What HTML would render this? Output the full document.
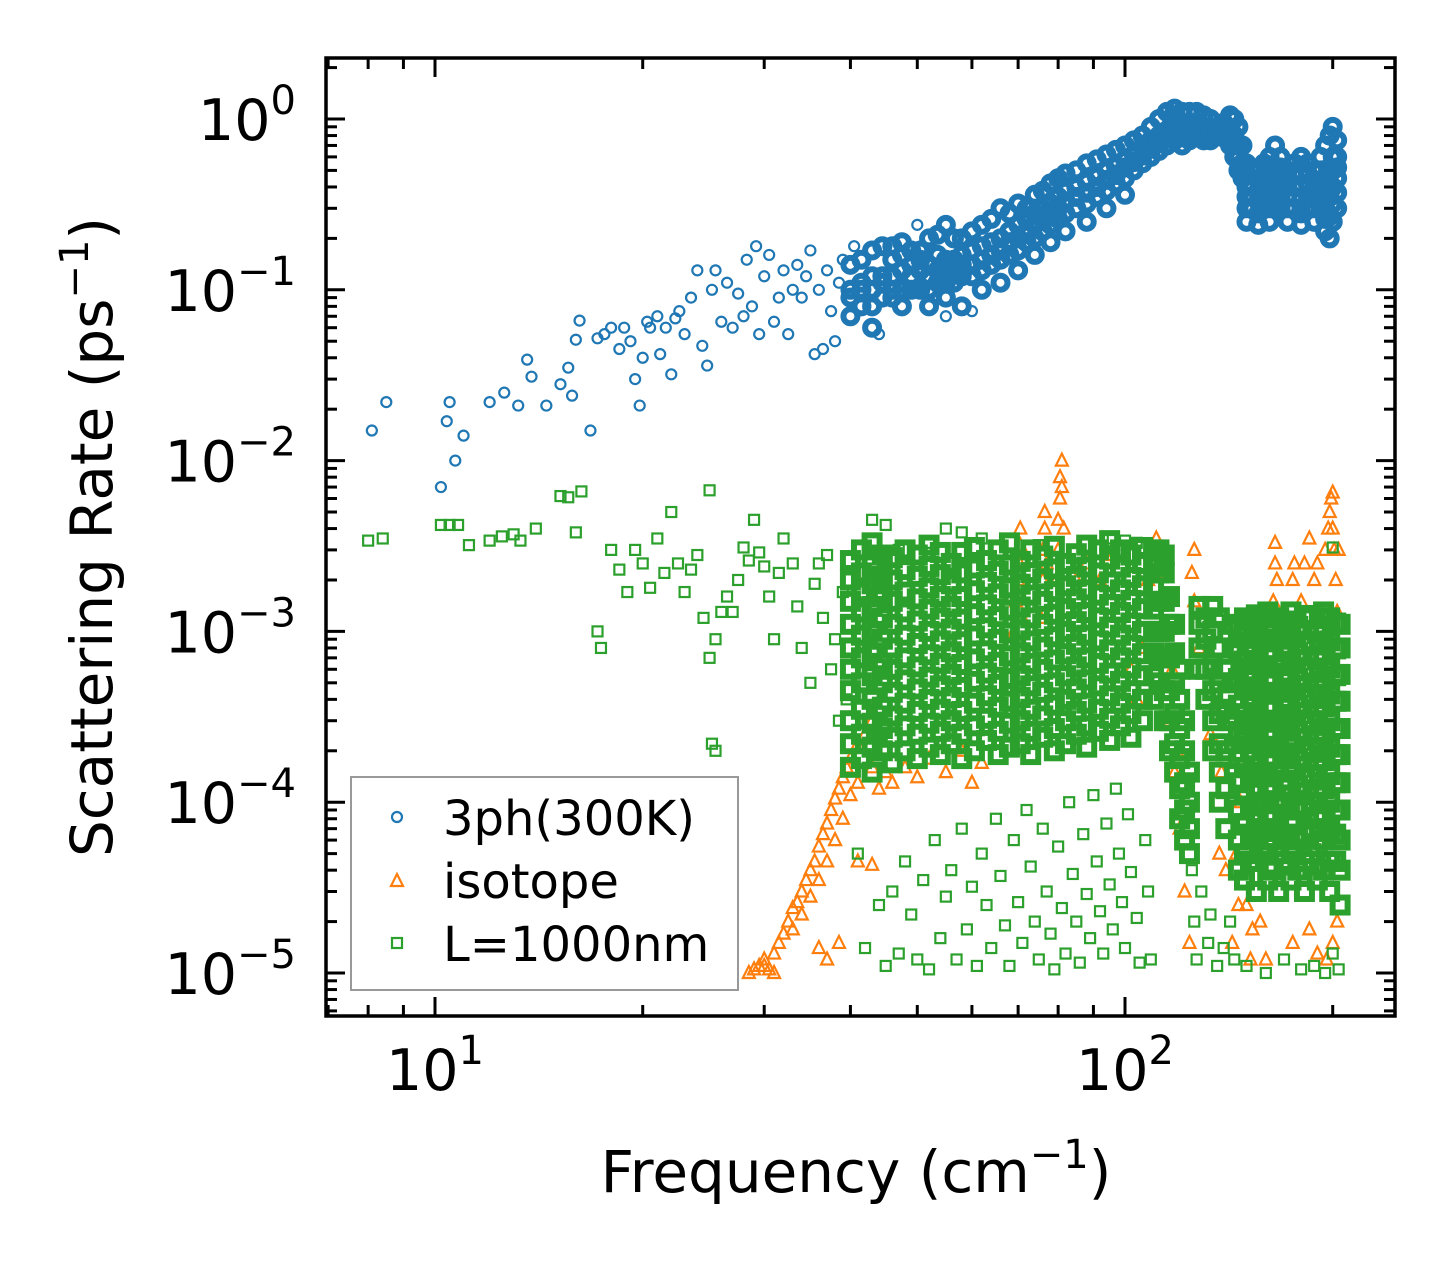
<!DOCTYPE html>
<html><head><meta charset="utf-8"><style>
html,body{margin:0;padding:0;background:#fff;}
svg{display:block;font-family:"DejaVu Sans","Liberation Sans",sans-serif;}
</style></head>
<body>
<svg id="chart" width="1455" height="1265" viewBox="0 0 1455 1265" xmlns="http://www.w3.org/2000/svg">
<defs><clipPath id="plotclip"><rect x="326" y="58" width="1069" height="958"/></clipPath></defs>
<rect width="1455" height="1265" fill="#fff"/>
<g id="series" clip-path="url(#plotclip)"></g>
<g id="axes"></g>
<text x="856" y="1192" font-size="58" text-anchor="middle">Frequency (cm<tspan font-size="40" dy="-24">−1</tspan><tspan dy="24">)</tspan></text>
<text transform="translate(112,537) rotate(-90)" font-size="58" text-anchor="middle">Scattering Rate (ps<tspan font-size="40" dy="-24">−1</tspan><tspan dy="24">)</tspan></text>
<g>
<rect x="351" y="777" width="387" height="213" fill="#fff" stroke="#999" stroke-width="2"/>
<g><circle cx="397" cy="817" r="5" fill="none" stroke="#1f77b4" stroke-width="2.2"/><text x="443" y="835" font-size="48">3ph(300K)</text></g>
<g><path d="M397,874 L403,886 L391,886 Z" fill="none" stroke="#ff7f0e" stroke-width="2.2"/><text x="443" y="898" font-size="48">isotope</text></g>
<g><rect x="392" y="938" width="10" height="10" fill="none" stroke="#2ca02c" stroke-width="2.2"/><text x="443" y="961" font-size="48">L=1000nm</text></g>
</g>
</svg>
<script>
// ---- data ----
const xTickValues=[10,100];
const xTickLabels=["1","2"];
const yTickValues=[1,0.1,0.01,0.001,0.0001,0.00001];
const yTickLabels=["0","−1","−2","−3","−4","−5"];

const blueSparse=[[8.1,0.015],[8.5,0.022],[10.2,0.007],[10.4,0.017],[10.5,0.022],[10.7,0.01],[11,0.014],[12,0.022],[12.6,0.025],[13.2,0.021],[13.6,0.039],[13.8,0.031],[14.5,0.021],[15.2,0.028],[15.6,0.035],[15.8,0.024],[16,0.051],[16.2,0.066],[16.8,0.015],[17.2,0.052],[17.6,0.055],[18,0.06],[18.5,0.045],[18.8,0.06],[19.2,0.05],[19.5,0.03],[19.8,0.021],[20,0.04],[20.3,0.065],[20.5,0.06],[21,0.07],[21.2,0.042],[21.6,0.06],[22,0.032],[22.3,0.068],[22.6,0.075],[23,0.055],[23.5,0.09],[24,0.13],[24.4,0.047],[24.8,0.036],[25.2,0.1],[25.5,0.13],[26,0.065],[26.5,0.11],[27,0.06],[27.5,0.095],[28,0.07],[28.3,0.15],[28.8,0.08],[29.2,0.18],[29.5,0.055],[30,0.12],[30.5,0.16],[31,0.065],[31.5,0.09],[32,0.13],[32.5,0.055],[33,0.1],[33.5,0.14],[34,0.09],[34.5,0.12],[35,0.17],[35.5,0.042],[36,0.1],[36.5,0.045],[37,0.13],[37.5,0.075],[38,0.05],[38.5,0.11],[39,0.15],[40.5,0.18],[44,0.055],[50,0.24],[55,0.07],[60,0.075]];
const blueColFreq=[40,41.5,43,44.5,46,47.5,49,50.5,52,53.5,55,56.5,58,60,62,64,66,68,70,72,74,76,78,80,82,85,88,91,94,97,100,103,106,109,112,115,118,121,124,127,130,133,136,139,142,144,146,148,150,153,156,159,162,165,168,172,176,180,184,188,192,195,198,200,203];
const blueColRates=[[0.07,0.09,0.1,0.14],[0.08,0.1,0.11,0.15],[0.08,0.1,0.12,0.17,0.06],[0.09,0.11,0.12,0.18],[0.09,0.1,0.12,0.15,0.18],[0.1,0.13,0.16,0.19,0.08],[0.1,0.12,0.14,0.17],[0.1,0.13,0.15,0.17],[0.1,0.12,0.14,0.2,0.08],[0.11,0.13,0.16,0.21],[0.11,0.13,0.15,0.24,0.09],[0.11,0.13,0.15,0.2],[0.12,0.14,0.16,0.2,0.08],[0.12,0.14,0.17,0.22],[0.13,0.15,0.18,0.24,0.1],[0.14,0.16,0.19,0.26],[0.15,0.17,0.2,0.3,0.11],[0.16,0.19,0.22,0.28],[0.17,0.2,0.24,0.32,0.13],[0.19,0.22,0.26,0.3],[0.2,0.24,0.28,0.36,0.16],[0.22,0.26,0.3,0.38],[0.24,0.28,0.32,0.42,0.19],[0.26,0.3,0.35,0.45],[0.28,0.33,0.38,0.48,0.22],[0.3,0.35,0.4,0.5],[0.32,0.37,0.43,0.55,0.25],[0.35,0.4,0.46,0.58],[0.38,0.44,0.5,0.62,0.3],[0.42,0.47,0.53,0.66],[0.45,0.52,0.58,0.7,0.36],[0.5,0.56,0.62,0.75],[0.55,0.61,0.68,0.8],[0.6,0.67,0.75,0.9],[0.65,0.72,0.8,1.0],[0.7,0.78,0.85,1.1],[0.75,0.82,0.9,1.15],[0.8,0.88,0.95,1.1,0.7],[0.75,0.82,0.9,1.1],[0.8,0.88,0.95,1.1],[0.75,0.82,0.9,1.05],[0.75,0.8,0.85,1.0],[0.8,0.85,0.9],[0.78,0.85,0.95],[0.7,0.85,1.05],[0.6,0.7,0.8,1.0],[0.5,0.6,0.7,0.9],[0.45,0.5,0.55,0.7],[0.3,0.35,0.4,0.48,0.55,0.25],[0.3,0.35,0.4,0.5],[0.28,0.33,0.38,0.44,0.5,0.24],[0.3,0.35,0.4,0.47,0.55],[0.3,0.36,0.42,0.5,0.6,0.25],[0.3,0.35,0.4,0.5,0.7],[0.32,0.38,0.45,0.52,0.6],[0.3,0.35,0.4,0.45,0.5,0.25],[0.3,0.35,0.4,0.47,0.55],[0.28,0.34,0.4,0.48,0.6,0.24],[0.3,0.36,0.42,0.48,0.55],[0.3,0.34,0.38,0.44,0.5,0.25],[0.3,0.35,0.4,0.5,0.6],[0.22,0.26,0.3,0.37,0.45,0.7],[0.2,0.27,0.35,0.42,0.5,0.8],[0.25,0.32,0.4,0.5,0.6,0.9],[0.3,0.37,0.45,0.52,0.6,0.75]];

const orangePts=[[28.5,1e-5],[29,1.05e-5],[29.5,1.1e-5],[30,1.2e-5],[30,1.1e-5],[30.5,1.05e-5],[31,1.3e-5],[31,1e-5],[31.5,1.5e-5],[32,1.7e-5],[32.5,2e-5],[33,1.8e-5],[33,2.4e-5],[33.5,2.6e-5],[34,3e-5],[34,2.2e-5],[34.5,3.5e-5],[35,4e-5],[35,2.8e-5],[35.5,4.5e-5],[36,5.5e-5],[36,3.5e-5],[36,1.4e-5],[36.5,6.5e-5],[37,7.5e-5],[37,4.5e-5],[37,1.2e-5],[37.5,9e-5],[38,1.05e-4],[38,6e-5],[38.5,1.2e-4],[38.5,1.5e-5],[39,1.4e-4],[39,8e-5],[39.5,1.6e-4],[40,1.8e-4],[40,1.1e-4],[41,2.2e-4],[41,1.3e-4],[41,4.5e-5],[42,2.5e-4],[43,1.6e-4],[43,3e-4],[43,4.3e-5],[44,1.2e-4],[45,1.5e-4],[46,1.3e-4],[48,1.6e-4],[50,1.4e-4],[52,1.8e-4],[55,1.5e-4],[58,2e-4],[60,1.3e-4],[62,1.7e-4],[69,1e-3],[69.5,1.5e-3],[70,2e-3],[70,2.6e-3],[70.5,3.2e-3],[70.5,4e-3],[71,1.2e-3],[75.5,1.2e-3],[76,2e-3],[76,3e-3],[76.5,4e-3],[76.5,5e-3],[77,2.5e-3],[79.5,2e-3],[80,3e-3],[80,4.5e-3],[80.5,6e-3],[80.5,8e-3],[81,1e-2],[81,7e-3],[81.5,4e-3],[85,2e-3],[88,2.5e-3],[92,2e-3],[96,2.8e-3],[102,6e-4],[104,4e-4],[106,8e-4],[108,2e-3],[110,2.8e-3],[111,3.5e-3],[112,2.2e-3],[113,1e-3],[114,1.6e-3],[115,5e-4],[116,3e-4],[117,6e-4],[118,1.5e-4],[119,2e-4],[120,7e-5],[122,3e-5],[124,1.5e-5],[125,2.2e-3],[126,3e-3],[126,1.5e-3],[128,8e-4],[133,2.5e-4],[135,3.5e-4],[137,5e-5],[138,1.5e-4],[140,4e-5],[143,1.5e-5],[145,5e-5],[146,2.5e-5],[147,1e-4],[150,1.5e-4],[150,2.5e-5],[152,1.2e-5],[153,1.8e-5],[157,2e-5],[160,1.2e-5],[164,1.5e-3],[165,2.5e-3],[165,3.3e-3],[166,2e-3],[175,2e-3],[176,2.5e-3],[175,1.5e-5],[180,1.5e-3],[182,2.5e-3],[185,3.5e-3],[185,1.8e-5],[188,2e-3],[190,2.5e-3],[190,1.3e-5],[195,3e-3],[196,1.2e-5],[197,4e-3],[198,5e-3],[199,6e-3],[200,6.5e-3],[200,4e-3],[200,1.5e-5],[201,3e-3],[202,2e-3],[203,1.3e-3],[203,2e-5],[204,3e-3]];

const greenSparse=[[8,0.0034],[8.4,0.0035],[10.2,0.0042],[10.5,0.0042],[10.8,0.0042],[11.2,0.0032],[12,0.0034],[12.5,0.0036],[13,0.0037],[13.3,0.0034],[14,0.004],[15.2,0.0062],[15.6,0.0061],[16,0.0038],[16.3,0.0066],[17.2,0.001],[17.4,0.0008],[18,0.003],[18.5,0.0023],[19,0.0017],[19.5,0.003],[20,0.0025],[20.5,0.0018],[21,0.0035],[21.5,0.0022],[22,0.005],[22.5,0.0025],[23,0.0017],[23.5,0.0023],[24,0.0028],[24.5,0.0012],[25,0.0067],[25.2,0.00022],[25.5,0.0002],[25,0.0007],[25.5,0.0009],[25.3,0.000017],[26,0.0013],[26.5,0.0016],[27,0.0013],[27.5,0.002],[28,0.0031],[28.5,0.0026],[29,0.0045],[29.5,0.0029],[30,0.0024],[30.5,0.0016],[31,0.0009],[31.5,0.0022],[32,0.0035],[33,0.0025],[33.5,0.0014],[34,0.0008],[35,0.0005],[35.5,0.0019],[36,0.0025],[36.5,0.0012],[37,0.0028],[37.5,0.0006],[38,0.0009],[38.5,0.0003],[39,0.0017],[39.5,0.0004],[43,4.5e-3],[45,4.2e-3],[47,3e-3],[52,3.3e-3],[55,4e-3],[58,3.8e-3],[62,3.5e-3],[75,3.2e-3],[96,3.5e-3],[100,3.4e-3],[104,3.3e-3],[200,3.1e-3],[41,5e-5],[42,1.4e-5],[44,2.5e-5],[45,1.1e-5],[46,3e-5],[47,1.3e-5],[48,4.5e-5],[49,2.2e-5],[50,1.2e-5],[51,3.5e-5],[52,1.05e-5],[53,6e-5],[54,1.6e-5],[55,2.8e-5],[56,4e-5],[57,1.2e-5],[58,7e-5],[59,1.8e-5],[60,3.2e-5],[61,1.1e-5],[62,5e-5],[63,2.5e-5],[64,1.4e-5],[65,8e-5],[66,3.7e-5],[67,1.9e-5],[68,1.1e-5],[69,6e-5],[70,2.6e-5],[71,1.5e-5],[72,9e-5],[73,4.2e-5],[74,2e-5],[75,1.2e-5],[76,7e-5],[77,3e-5],[78,1.7e-5],[79,1.05e-5],[80,5.5e-5],[81,2.4e-5],[82,1.3e-5],[83,1e-4],[84,3.8e-5],[85,2e-5],[86,1.15e-5],[87,6.5e-5],[88,2.9e-5],[89,1.6e-5],[90,1.1e-4],[91,4.5e-5],[92,2.3e-5],[93,1.3e-5],[94,7.5e-5],[95,3.3e-5],[96,1.8e-5],[97,1.2e-4],[98,5e-5],[99,2.6e-5],[100,1.4e-5],[101,8.5e-5],[102,3.9e-5],[104,2.1e-5],[105,1.15e-5],[107,6e-5],[108,3e-5],[109,1.2e-5],[125,4e-5],[126,2e-5],[127,1.2e-5],[129,3e-5],[132,1.5e-5],[133,2.2e-5],[136,1.1e-5],[139,1.4e-5],[142,2e-5],[144,1.2e-5],[150,1.1e-5],[160,1e-5],[170,1.2e-5],[180,1.05e-5],[188,1.1e-5],[195,1e-5],[200,1.3e-5],[204,1.05e-5]];
// dense green columns, rates in units of 1e-4
const greenColFreq=[40,41.5,43,44.5,46,48,50,52,54,56,58,60.5,63,65.5,68,70.5,73,76,79,82,85,88,91.5,95,98.5,102,106,110,112,114,116,118,120,122,124,128,131,134,137,140,143,146,149,152,155,158,161,164,167,170,174,178,182,186,190,194,198,202,205];
const greenColRates=[[1.6,2.2,3,4.5,6,8,11,15,20,26],[1.8,2.5,3.5,5,7,9.5,13,17,22,30],[1.5,2.1,2.9,4,5.5,7.5,10,14,19,25,33],[2,2.7,3.6,5,6.5,9,12,16,21,28],[1.7,2.4,3.2,4.4,6,8,11,15,20,27],[2,2.8,3.8,5.2,7,9.5,13,17,23,30],[1.8,2.5,3.4,4.6,6.2,8.5,11.5,15.5,21,28],[2.1,2.9,4,5.4,7.3,10,13.5,18,24,32],[1.9,2.6,3.5,4.8,6.5,8.8,12,16,21.5,29],[2.2,3,4.1,5.6,7.6,10.3,14,19,25],[1.8,2.5,3.4,4.7,6.4,8.7,11.8,16,22,29],[2,2.8,3.8,5.1,6.9,9.4,12.7,17.3,23.5,31],[2.3,3.1,4.2,5.7,7.7,10.5,14.3,19.4,26],[1.9,2.6,3.6,4.9,6.6,9,12.2,16.6,22.5,30],[2.1,2.9,3.9,5.3,7.2,9.8,13.3,18,24.5,33],[2.2,3,4.1,5.5,7.5,10.2,13.9,18.9,25.7],[1.9,2.6,3.5,4.8,6.5,8.8,12,16.3,22.1,30],[2.4,3.2,4.4,6,8.1,11,15,20.3,27.6],[2,2.7,3.7,5,6.8,9.3,12.6,17.1,23.2,31.5],[2.2,3,4,5.5,7.4,10,13.6,18.5,25],[2.5,3.4,4.6,6.2,8.4,11.4,15.5,21,28.5],[2.1,2.8,3.8,5.2,7,9.5,12.9,17.5,23.8,32],[2.6,3.5,4.8,6.5,8.8,12,16.3,22,30],[2.3,3.1,4.2,5.7,7.8,10.6,14.4,19.5,26.5,34],[2.8,3.8,5.1,7,9.5,12.9,17.5,23.8,30],[2.4,3.3,4.5,6.1,8.3,11.2,15.2,20.7,28],[3,4,5.5,7.4,10,13.6,18.5,25,31],[4,5.5,7.5,10,13.5,18,24,30],[5,7,10,15,22,30],[3,4.5,7,10,15,22,28],[2,3,4.5,7,11,16],[1.5,2.2,3.3,5,7.5,11],[0.8,1.2,1.8,2.7,4,6],[0.6,0.9,1.3,2,3],[0.5,0.7,1,1.5],[6,8,11,14],[4,6,9,12],[2,3,4.5,6.5,10,14],[1,1.5,2.2,3.3,5,8,12],[0.7,1.2,2,3.5,6],[3,5,8,11],[0.4,0.6,0.9,1.3,1.8,2.6,3.7,5.3,7.5,10.5],[0.35,0.5,0.75,1.1,1.6,2.3,3.3,4.7,6.7,9.5,12],[0.45,0.65,0.95,1.4,2,2.9,4.1,5.8,8.3,11.5],[0.3,0.45,0.7,1,1.5,2.2,3.1,4.5,6.4,9.1,12.5],[0.5,0.7,1,1.5,2.1,3,4.3,6.1,8.7,12],[0.35,0.55,0.8,1.15,1.7,2.4,3.5,5,7.1,10,13],[0.4,0.6,0.85,1.25,1.8,2.6,3.7,5.3,7.6,10.8],[0.3,0.5,0.7,1,1.5,2.1,3,4.4,6.3,9,12],[0.45,0.65,0.95,1.35,1.95,2.8,4,5.7,8.2,11.5],[0.35,0.5,0.75,1.1,1.55,2.2,3.2,4.6,6.6,9.4,13],[0.4,0.6,0.9,1.25,1.8,2.6,3.7,5.3,7.5,10.7],[0.3,0.45,0.65,0.95,1.4,2,2.9,4.1,5.9,8.4,12],[0.5,0.7,1,1.45,2.1,3,4.3,6.1,8.7,12.4],[0.35,0.55,0.8,1.1,1.6,2.3,3.3,4.7,6.8,9.7],[0.4,0.6,0.85,1.2,1.75,2.5,3.6,5.1,7.3,10.4,13],[0.3,0.45,0.7,1,1.45,2.1,3,4.3,6.1,8.8,12],[0.45,0.65,0.9,1.3,1.9,2.7,3.9,5.5,7.9,11.2],[0.25,0.4,0.6,0.9,1.3,1.9,2.7,3.9,5.6,8,11]];
const GREEN_UNIT=1e-4;

// ---- axes ----
const NS="http://www.w3.org/2000/svg";
const L=326,R=1395,T=58,B=1016;
function X(f){return 435+690*(Math.log10(f)-1);}
function Y(r){return 119-170.8*Math.log10(r);}
const series=document.getElementById('series');
const axes=document.getElementById('axes');
function mk(tag,attrs,parent){const e=document.createElementNS(NS,tag);for(const k in attrs)e.setAttribute(k,attrs[k]);parent.appendChild(e);return e;}

function circle(f,r,g,dense){const e=mk('circle',{cx:X(f),cy:Y(r),r:dense?7:5,fill:'none',stroke:'#1f77b4','stroke-width':dense?6:2.2},g);

}
function tri(f,r,g){const x=X(f),y=Y(r);const e=mk('path',{d:`M${x},${y-7} L${x+6},${y+5} L${x-6},${y+5} Z`,fill:'none',stroke:'#ff7f0e','stroke-width':2.2},g);

}
function sq(f,r,g,dense){const s=dense?15:10;const e=mk('rect',{x:X(f)-s/2,y:Y(r)-s/2,width:s,height:s,fill:'none',stroke:'#2ca02c','stroke-width':dense?6:2.2},g);

}

const gB=mk('g',{},series);


blueSparse.forEach(p=>circle(p[0],p[1],gB,false));
blueColFreq.forEach((f,i)=>blueColRates[i].forEach(r=>circle(f,r,gB,true)));
const gO=mk('g',{},series);


orangePts.forEach(p=>tri(p[0],p[1],gO));
const gG=mk('g',{},series);


greenSparse.forEach(p=>sq(p[0],p[1],gG,false));
greenColFreq.forEach((f,i)=>greenColRates[i].forEach(r=>sq(f,r*GREEN_UNIT,gG,true)));

// frame
const fr=mk('rect',{x:L,y:T,width:R-L,height:B-T,fill:'none',stroke:'#000','stroke-width':3.5},axes);


for(let d=0;d<=2;d++){for(let m=1;m<=9;m++){const f=m*Math.pow(10,d);const x=X(f);if(x<L+1||x>R-1)continue;const len=m===1?19:11;
const t1=mk('line',{x1:x,y1:B,x2:x,y2:B-len,stroke:'#000','stroke-width':3},axes);


const t2=mk('line',{x1:x,y1:T,x2:x,y2:T+len,stroke:'#000','stroke-width':3},axes);

}}
xTickValues.forEach((v,i)=>{const t=mk('text',{x:X(v),y:1090,'font-size':57,'text-anchor':'middle'},axes);


t.innerHTML='10<tspan font-size="40" dy="-26">'+xTickLabels[i]+'</tspan>';});
for(let d=-6;d<=0;d++){for(let m=1;m<=9;m++){const r=m*Math.pow(10,d);const y=Y(r);if(y<T+1||y>B-1)continue;const len=m===1?19:11;
const t1=mk('line',{x1:L,y1:y,x2:L+len,y2:y,stroke:'#000','stroke-width':3},axes);


const t2=mk('line',{x1:R,y1:y,x2:R-len,y2:y,stroke:'#000','stroke-width':3},axes);

}}
yTickValues.forEach((v,i)=>{const t=mk('text',{x:296,y:Y(v)+21,'font-size':57,'text-anchor':'end'},axes);


t.innerHTML='10<tspan font-size="40" dy="-26">'+yTickLabels[i]+'</tspan>';});
</script>
</body></html>
